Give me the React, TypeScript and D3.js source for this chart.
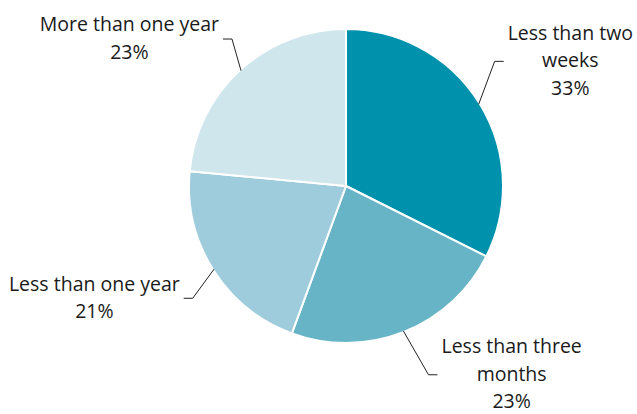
import * as React from 'react'
import { pie, arc, select, PieArcDatum } from 'd3'

const { useEffect, useRef } = React

const categories = ['Less than two weeks', 'Less than three months', 'Less than one year', 'More than one year']
// slice sizes as drawn in the source (printed labels are rounded)
const shares = [32.4, 23.2, 20.9, 23.5]
const labelLines = [
  ['Less than two', 'weeks', '33%'],
  ['Less than three', 'months', '23%'],
  ['Less than one year', '21%'],
  ['More than one year', '23%'],
]
const colors = ['#0092ac', '#67b4c7', '#9fccdc', '#d0e6ed']

// leader elbow placement, per slice: angle shift (deg) and distance from centre
const elbows = [
  { shift: -8.3, r: 194 },
  { shift: -2, r: 206 },
  { shift: -4, r: 190 },
  { shift: 4.5, r: 186 },
]

const width = 637
const height = 414
const cx = 346
const cy = 186
const radius = 157
const lineGap = 27.5

function PieChart() {
  const ref = useRef<SVGGElement>(null)

  useEffect(() => {
    const g = select(ref.current)
    g.selectAll('*').remove()

    const createPie = pie<number>().value((d) => d).sort(null)
    const createArc = arc<PieArcDatum<number>>().innerRadius(0).outerRadius(radius)
    const arcs = createPie(shares)

    g.selectAll('path.slice')
      .data(arcs)
      .enter()
      .append('path')
      .attr('class', 'slice')
      .attr('d', createArc)
      .attr('fill', (d, i) => colors[i])
      .attr('stroke', '#fff')
      .attr('stroke-width', 2)
      .attr('stroke-linejoin', 'round')
      .append('title')
      .text((d, i) => categories[i])

    arcs.forEach((d, i) => {
      const mid = (d.startAngle + d.endAngle) / 2
      const right = Math.sin(mid) > 0
      const sx = Math.sin(mid) * (radius - 1)
      const sy = -Math.cos(mid) * (radius - 1)
      const ea = mid + (elbows[i].shift * Math.PI) / 180
      const ex = Math.sin(ea) * elbows[i].r
      const ey = -Math.cos(ea) * elbows[i].r
      const tx = ex + (right ? 9 : -9)

      g.append('polyline')
        .attr('points', `${sx},${sy} ${ex},${ey} ${tx},${ey}`)
        .attr('fill', 'none')
        .attr('stroke', '#222')
        .attr('stroke-width', 1)

      const lines = labelLines[i]
      const text = g
        .append('text')
        .attr('text-anchor', 'middle')
        .attr('font-family', '"Open Sans", "Noto Sans", sans-serif')
        .attr('font-size', 19.5)
        .attr('fill', '#1a1a1a')
      lines.forEach((line, j) => {
        text
          .append('tspan')
          .attr('x', 0)
          .attr('y', ey + 6 + (j - (lines.length - 1) / 2) * lineGap)
          .text(line)
      })
      const node = text.node() as SVGTextElement
      let w = 0
      node.querySelectorAll('tspan').forEach((t) => {
        w = Math.max(w, (t as SVGTSpanElement).getComputedTextLength())
      })
      const centre = right ? tx + 4 + w / 2 : tx - 4 - w / 2
      text.selectAll('tspan').attr('x', centre)
    })
  }, [])

  return (
    <svg width={width} height={height} style={{ position: 'absolute', left: 0, top: 0 }}>
      <rect width={width} height={height} fill="#fff" />
      <g ref={ref} transform={`translate(${cx}, ${cy})`} />
    </svg>
  )
}

export default function App() {
  return <PieChart />
}
